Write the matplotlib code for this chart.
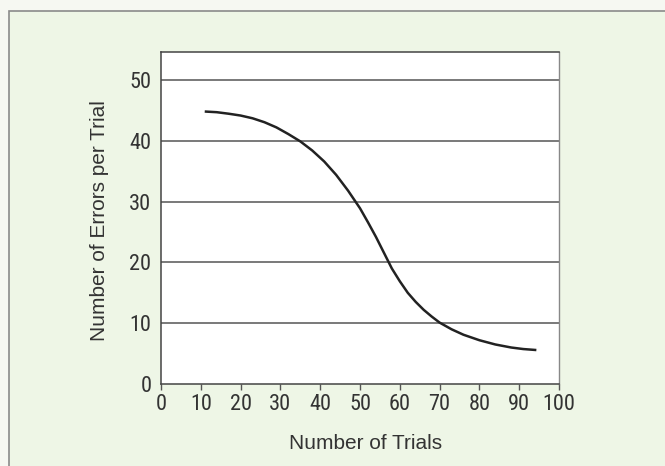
import matplotlib.pyplot as plt
from matplotlib.patches import Rectangle

# curve
trials = [11.3, 14, 17, 20, 23, 26, 29, 32, 35, 38, 41, 44, 47, 50, 52, 54, 56,
          58, 60, 62, 64, 66, 68, 70, 73, 76, 80, 84, 88, 91, 94]
errors = [44.8, 44.7, 44.45, 44.15, 43.7, 43.05, 42.2, 41.1, 39.9, 38.4, 36.6,
          34.4, 31.8, 28.9, 26.6, 24.2, 21.6, 19.0, 16.9, 15.0, 13.5, 12.2, 11.1,
          10.1, 9.0, 8.1, 7.2, 6.5, 6.0, 5.75, 5.6]

xticks = [0, 10, 20, 30, 40, 50, 60, 70, 80, 90, 100]
yticks = [0, 10, 20, 30, 40, 50]

bg = '#eef6e6'
narrow = ['Liberation Sans Narrow', 'DejaVu Sans Condensed', 'Roboto Condensed',
          'Liberation Sans']

fig = plt.figure(figsize=(6.65, 4.66), dpi=100)
fig.patch.set_facecolor('#f6f8f2')

# page panel with its border on top and left
fig.patches.append(Rectangle((9 / 665, -0.1), 1.2, 1 - 11 / 466 + 0.1,
                             transform=fig.transFigure, facecolor=bg,
                             edgecolor='#8a8a8a', linewidth=1.2, zorder=-5))

ax = fig.add_axes([161 / 665, 1 - 384 / 466, 398 / 665, 332 / 466])
ax.set_facecolor('white')

for v in yticks[1:]:
    ax.axhline(v, color='#555555', linewidth=1.1, zorder=1)

ax.plot(trials, errors, color='#222222', linewidth=1.8, zorder=3)

ax.set_xlim(0, 100)
ax.set_ylim(0, 54.6)
ax.set_xticks(xticks)
ax.set_yticks(yticks)
ax.set_xticklabels([str(t) for t in xticks], family=narrow, fontsize=16, color='#333333')
ax.set_yticklabels([str(t) for t in yticks], family=narrow, fontsize=16, color='#333333')
ax.tick_params(axis='x', direction='out', length=4, width=1, color='#555555', pad=3)
ax.tick_params(axis='y', length=0, pad=7)

for side in ['left', 'bottom', 'top']:
    ax.spines[side].set_color('#444444')
    ax.spines[side].set_linewidth(1.1)
ax.spines['right'].set_color('#888888')
ax.spines['right'].set_linewidth(1.0)

ax.set_xlabel('Number of Trials', family='Liberation Sans', fontsize=15,
              color='#333333')
ax.set_ylabel('Number of Errors per Trial', family='Liberation Sans', fontsize=15,
              color='#333333')
ax.xaxis.set_label_coords(0.515, -0.15)
ax.yaxis.set_label_coords(-0.13, 0.491)

fig.savefig('out.png', dpi=100, facecolor=fig.get_facecolor())
